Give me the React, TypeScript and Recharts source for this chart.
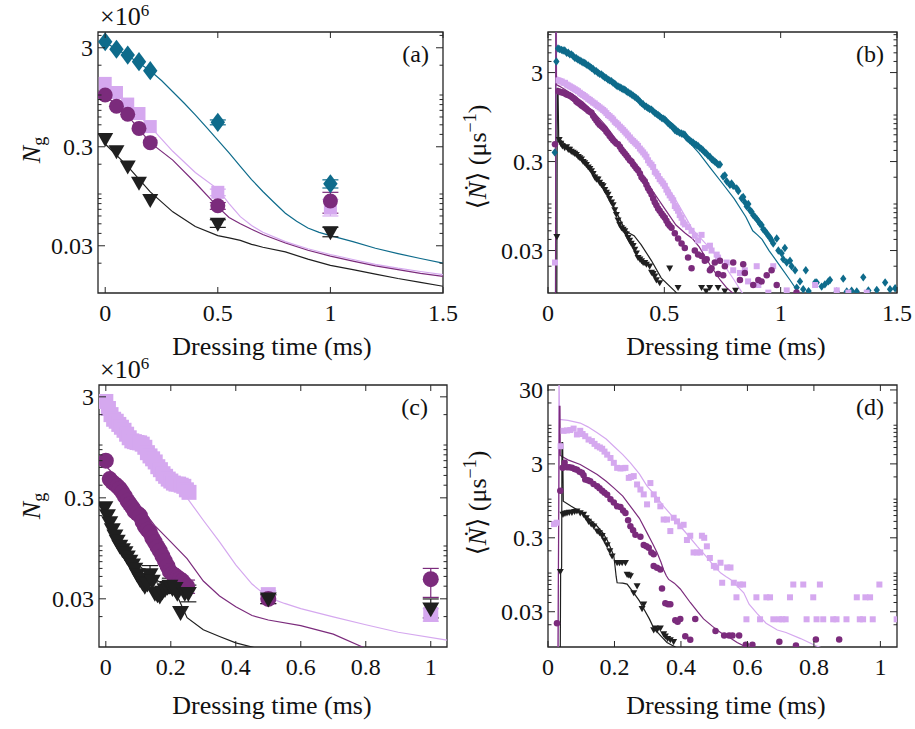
import React from "react";
import { ComposedChart, Scatter, Line, XAxis, YAxis, ReferenceArea, ErrorBar } from "recharts";

const FONT = "'Liberation Serif', 'DejaVu Serif', serif";
const INK = "#111111";
const FRAME = "#262626";
const TEAL = "#0e6b8b";
const LILAC = "#d5a8ef";
const PURPLE = "#7b2b7c";
const BLACK = "#1f1f1f";

type Pt = [number, number];
type Err = [number, number] | null;

// ---- (a) ground-state atom number, sparse dressing times ----
const aTimes = [0, 0.05, 0.1, 0.15, 0.2, 0.5, 1];
const aTeal = [3.45, 2.9, 2.53, 2.17, 1.76, 0.53, 0.127];
const aLilac = [1.31, 1.06, 0.81, 0.65, 0.48, 0.104, 0.072];
const aPurple = [1.0, 0.77, 0.64, 0.46, 0.33, 0.076, 0.085];
const aBlack = [0.36, 0.27, 0.19, 0.13, 0.087, 0.05, 0.041];
// error bars as [below, above]
const aTealErr: Err[] = [null, null, null, null, null, [0.03, 0.03], [0.012, 0.012]];
const aLilacErr: Err[] = [null, null, null, null, null, [0.008, 0.008], [0.012, 0.016]];
const aPurpleErr: Err[] = [null, null, null, null, null, [0.006, 0.006], [0.021, 0.019]];
const aBlackErr: Err[] = [null, null, null, null, null, [0.004, 0.005], [0.004, 0.005]];

const aFitTealT = [0, 0.1, 0.2, 0.25, 0.3, 0.35, 0.4, 0.45, 0.5, 0.55, 0.6, 0.65, 0.7, 0.75, 0.8, 0.85, 0.9, 0.95, 1.0, 1.1, 1.2, 1.3, 1.4, 1.5];
const aFitTeal = [3.4, 2.5, 1.76, 1.4, 1.08, 0.83, 0.63, 0.47, 0.35, 0.26, 0.19, 0.14, 0.106, 0.082, 0.064, 0.053, 0.0454, 0.041, 0.038, 0.033, 0.0283, 0.025, 0.0223, 0.02];
const aFitT = [0, 0.1, 0.2, 0.3, 0.4, 0.5, 0.55, 0.6, 0.65, 0.7, 0.8, 0.9, 1.0, 1.1, 1.2, 1.3, 1.4, 1.5];
const aFitLilac = [1.3, 0.8, 0.48, 0.27, 0.165, 0.112, 0.08, 0.059, 0.048, 0.041, 0.033, 0.028, 0.0245, 0.0218, 0.0195, 0.0178, 0.0165, 0.0153];
const aFitPurple = [1.0, 0.62, 0.33, 0.22, 0.13, 0.074, 0.058, 0.05, 0.044, 0.039, 0.032, 0.027, 0.0236, 0.021, 0.0188, 0.0172, 0.0158, 0.0147];
const aFitBlack = [0.32, 0.19, 0.105, 0.066, 0.047, 0.038, 0.036, 0.034, 0.031, 0.029, 0.026, 0.022, 0.019, 0.0172, 0.0155, 0.014, 0.0128, 0.0117];

// ---- (b) loss rate, time-resolved ----
const bTeal: Pt[] = [
  [0.029, 0.38], [0.036, 4.0], [0.043, 5.6], [0.05, 5.5], [0.058, 5.4], [0.065, 5.3], [0.072, 5.3], [0.08, 5.0], [0.087, 5.0], [0.094, 4.8],
  [0.101, 4.8], [0.108, 4.6], [0.115, 4.4], [0.122, 4.35], [0.129, 4.2], [0.137, 4.1], [0.144, 4.0], [0.151, 3.9], [0.158, 3.85], [0.165, 3.7],
  [0.173, 3.6], [0.18, 3.5], [0.187, 3.38], [0.194, 3.3], [0.201, 3.15], [0.208, 3.1], [0.215, 2.98], [0.222, 2.9], [0.23, 2.85], [0.237, 2.75],
  [0.244, 2.66], [0.251, 2.6], [0.258, 2.5], [0.265, 2.45], [0.273, 2.4], [0.28, 2.3], [0.287, 2.25], [0.294, 2.15], [0.301, 2.1], [0.309, 2.05],
  [0.316, 2.0], [0.323, 1.95], [0.33, 1.93], [0.337, 1.85], [0.344, 1.8], [0.352, 1.75], [0.359, 1.7], [0.366, 1.65], [0.373, 1.6], [0.38, 1.55],
  [0.387, 1.5], [0.395, 1.42], [0.402, 1.36], [0.409, 1.32], [0.416, 1.26], [0.423, 1.24], [0.43, 1.2], [0.437, 1.17], [0.445, 1.15], [0.452, 1.1],
  [0.459, 1.06], [0.466, 1.03], [0.473, 1.0], [0.48, 0.97], [0.488, 0.93], [0.495, 0.91], [0.502, 0.89], [0.509, 0.85], [0.516, 0.81], [0.523, 0.78],
  [0.531, 0.75], [0.538, 0.72], [0.545, 0.68], [0.552, 0.66], [0.559, 0.65], [0.566, 0.63], [0.574, 0.62], [0.581, 0.61], [0.588, 0.6], [0.595, 0.56],
  [0.602, 0.54], [0.609, 0.52], [0.617, 0.5], [0.624, 0.49], [0.631, 0.47], [0.638, 0.46], [0.645, 0.45], [0.652, 0.43], [0.66, 0.415], [0.667, 0.4],
  [0.674, 0.38], [0.681, 0.37], [0.688, 0.35], [0.696, 0.34], [0.703, 0.32], [0.71, 0.31], [0.717, 0.3], [0.724, 0.29], [0.731, 0.277], [0.739, 0.278],
  [0.753, 0.204], [0.76, 0.21], [0.768, 0.18], [0.782, 0.164], [0.789, 0.17], [0.796, 0.16], [0.811, 0.15], [0.818, 0.14], [0.832, 0.116], [0.839, 0.12],
  [0.846, 0.105], [0.854, 0.094], [0.861, 0.1], [0.868, 0.085], [0.875, 0.082], [0.882, 0.075], [0.889, 0.072], [0.897, 0.068], [0.904, 0.064], [0.911, 0.06],
  [0.918, 0.058], [0.925, 0.052], [0.932, 0.05], [0.94, 0.047], [0.947, 0.044], [0.954, 0.042], [0.961, 0.039], [0.968, 0.036], [0.983, 0.041], [0.99, 0.03],
  [1.004, 0.028], [1.011, 0.024], [1.018, 0.032], [1.026, 0.022], [1.04, 0.023], [1.047, 0.02], [1.062, 0.018], [1.069, 0.0115], [1.083, 0.0135], [1.097, 0.011],
  [1.108, 0.018], [1.12, 0.0105], [1.148, 0.0131], [1.155, 0.0131], [1.176, 0.0118], [1.19, 0.0125], [1.205, 0.0135], [1.212, 0.014], [1.241, 0.0104], [1.269, 0.0145],
  [1.284, 0.0104], [1.305, 0.0106], [1.327, 0.0104], [1.355, 0.015], [1.377, 0.0107], [1.413, 0.0108], [1.449, 0.0131], [1.47, 0.011], [1.492, 0.0113],
];
const bLilac: Pt[] = [
  [0.03, 0.022], [0.045, 2.45], [0.052, 2.4], [0.059, 2.38], [0.066, 2.3], [0.073, 2.3], [0.08, 2.2], [0.087, 2.15], [0.094, 2.1], [0.101, 2.05],
  [0.108, 2.0], [0.115, 1.95], [0.122, 1.9], [0.129, 1.85], [0.137, 1.78], [0.144, 1.72], [0.151, 1.68], [0.158, 1.63], [0.165, 1.58], [0.173, 1.52],
  [0.18, 1.48], [0.187, 1.43], [0.194, 1.38], [0.201, 1.35], [0.208, 1.3], [0.215, 1.26], [0.222, 1.22], [0.23, 1.18], [0.237, 1.14], [0.244, 1.1],
  [0.251, 1.05], [0.258, 1.0], [0.265, 0.97], [0.273, 0.93], [0.28, 0.89], [0.287, 0.84], [0.294, 0.81], [0.301, 0.78], [0.309, 0.74], [0.316, 0.71],
  [0.323, 0.68], [0.33, 0.65], [0.337, 0.62], [0.344, 0.59], [0.352, 0.56], [0.359, 0.53], [0.366, 0.51], [0.373, 0.49], [0.38, 0.47], [0.387, 0.45],
  [0.395, 0.42], [0.402, 0.4], [0.409, 0.38], [0.416, 0.36], [0.423, 0.34], [0.43, 0.31], [0.437, 0.29], [0.445, 0.277], [0.452, 0.26], [0.459, 0.23],
  [0.466, 0.22], [0.473, 0.206], [0.48, 0.19], [0.488, 0.18], [0.495, 0.17], [0.502, 0.16], [0.509, 0.145], [0.516, 0.135], [0.523, 0.125], [0.531, 0.117],
  [0.538, 0.11], [0.545, 0.095], [0.552, 0.09], [0.559, 0.084], [0.566, 0.075], [0.574, 0.07], [0.581, 0.062], [0.588, 0.059], [0.602, 0.055], [0.617, 0.05],
  [0.631, 0.044], [0.645, 0.039], [0.66, 0.045], [0.674, 0.032], [0.696, 0.034], [0.703, 0.03], [0.725, 0.027], [0.731, 0.025], [0.768, 0.022], [0.796, 0.018],
  [0.825, 0.0168], [0.846, 0.018], [0.86, 0.0135], [0.897, 0.02], [0.904, 0.0123], [0.947, 0.0101], [0.968, 0.02], [1.026, 0.0107], [1.148, 0.0123], [1.241, 0.0107],
  [1.291, 0.0101], [1.37, 0.0101],
];
const bPurple: Pt[] = [
  [0.03, 0.47], [0.045, 1.85], [0.052, 1.82], [0.059, 1.8], [0.066, 1.78], [0.073, 1.75], [0.08, 1.7], [0.087, 1.68], [0.094, 1.65], [0.101, 1.6],
  [0.108, 1.55], [0.115, 1.5], [0.122, 1.42], [0.129, 1.37], [0.137, 1.33], [0.144, 1.28], [0.151, 1.25], [0.158, 1.21], [0.165, 1.17], [0.173, 1.12],
  [0.18, 1.09], [0.187, 1.06], [0.194, 0.98], [0.201, 0.92], [0.208, 0.87], [0.215, 0.82], [0.222, 0.78], [0.23, 0.75], [0.237, 0.72], [0.244, 0.69],
  [0.251, 0.65], [0.258, 0.62], [0.265, 0.58], [0.273, 0.55], [0.28, 0.52], [0.287, 0.5], [0.294, 0.48], [0.301, 0.47], [0.309, 0.44], [0.316, 0.41],
  [0.323, 0.39], [0.33, 0.37], [0.337, 0.35], [0.344, 0.33], [0.352, 0.31], [0.359, 0.3], [0.366, 0.28], [0.373, 0.265], [0.38, 0.25], [0.387, 0.24],
  [0.395, 0.22], [0.402, 0.2], [0.409, 0.19], [0.416, 0.18], [0.423, 0.165], [0.43, 0.15], [0.437, 0.14], [0.445, 0.128], [0.452, 0.115], [0.459, 0.105],
  [0.466, 0.097], [0.473, 0.089], [0.48, 0.084], [0.488, 0.078], [0.495, 0.074], [0.502, 0.07], [0.509, 0.065], [0.516, 0.06], [0.523, 0.057], [0.531, 0.054],
  [0.545, 0.047], [0.559, 0.041], [0.574, 0.036], [0.588, 0.032], [0.602, 0.025], [0.617, 0.019], [0.631, 0.03], [0.645, 0.027], [0.66, 0.026], [0.674, 0.023],
  [0.682, 0.024], [0.696, 0.018], [0.703, 0.019], [0.717, 0.022], [0.731, 0.0164], [0.739, 0.023], [0.753, 0.0158], [0.76, 0.02], [0.796, 0.022], [0.825, 0.014],
  [0.839, 0.021], [0.846, 0.0168], [0.882, 0.0123], [0.904, 0.014], [0.918, 0.0135], [0.94, 0.0158], [0.961, 0.018], [0.983, 0.0123], [1.068, 0.0101],
];
const bBlack: Pt[] = [
  [0.038, 0.043], [0.048, 0.53], [0.055, 0.48], [0.062, 0.45], [0.072, 0.43], [0.08, 0.44], [0.087, 0.41], [0.093, 0.41], [0.1, 0.39], [0.108, 0.38],
  [0.115, 0.37], [0.122, 0.36], [0.13, 0.34], [0.137, 0.33], [0.144, 0.32], [0.151, 0.3], [0.158, 0.29], [0.165, 0.277], [0.173, 0.26], [0.18, 0.25],
  [0.187, 0.235], [0.194, 0.22], [0.201, 0.2], [0.208, 0.19], [0.215, 0.19], [0.222, 0.175], [0.23, 0.165], [0.237, 0.16], [0.244, 0.145], [0.251, 0.135],
  [0.258, 0.128], [0.265, 0.115], [0.273, 0.105], [0.28, 0.098], [0.287, 0.086], [0.294, 0.076], [0.301, 0.066], [0.308, 0.059], [0.316, 0.054], [0.323, 0.052],
  [0.33, 0.05], [0.337, 0.046], [0.344, 0.042], [0.351, 0.039], [0.358, 0.036], [0.366, 0.034], [0.373, 0.031], [0.38, 0.028], [0.387, 0.025], [0.395, 0.024],
  [0.402, 0.023], [0.409, 0.022], [0.416, 0.022], [0.423, 0.021], [0.437, 0.02], [0.445, 0.017], [0.452, 0.0165], [0.459, 0.0155], [0.466, 0.014], [0.48, 0.013],
  [0.523, 0.019], [0.559, 0.0115], [0.66, 0.0115], [0.68, 0.0105], [0.695, 0.0115], [0.731, 0.0115], [0.76, 0.0105], [0.806, 0.0107],
];
const bFitTeal: Pt[] = [
  [0.032, 0.001], [0.034, 100], [0.036, 5.4], [0.05, 5.2], [0.1, 4.6], [0.15, 3.9], [0.2, 3.2], [0.25, 2.75], [0.3, 2.2], [0.35, 1.8], [0.4, 1.43],
  [0.45, 1.15], [0.5, 0.95], [0.55, 0.74], [0.6, 0.52], [0.65, 0.37], [0.7, 0.25], [0.75, 0.17], [0.8, 0.115], [0.85, 0.072], [0.88, 0.05],
  [0.9, 0.045], [0.92, 0.04], [0.95, 0.03], [1.0, 0.0197], [1.04, 0.014], [1.08, 0.0098],
];
const bFitLilac: Pt[] = [
  [0.033, 0.001], [0.035, 100], [0.037, 2.7], [0.05, 2.6], [0.1, 2.15], [0.15, 1.75], [0.2, 1.4], [0.25, 1.08], [0.3, 0.8], [0.35, 0.57], [0.4, 0.4],
  [0.45, 0.27], [0.5, 0.18], [0.55, 0.11], [0.6, 0.065], [0.62, 0.052], [0.65, 0.043], [0.7, 0.031], [0.73, 0.025], [0.76, 0.02], [0.8, 0.014],
  [0.832, 0.0103], [0.85, 0.009],
];
const bFitPurple: Pt[] = [
  [0.032, 0.001], [0.034, 100], [0.036, 2.2], [0.05, 2.1], [0.1, 1.75], [0.15, 1.4], [0.2, 1.05], [0.25, 0.75], [0.3, 0.5], [0.35, 0.33], [0.4, 0.22],
  [0.45, 0.14], [0.5, 0.09], [0.55, 0.058], [0.59, 0.047], [0.62, 0.041], [0.65, 0.033], [0.7, 0.02], [0.74, 0.014], [0.77, 0.0113], [0.8, 0.0097],
];
const bFitBlack: Pt[] = [
  [0.037, 0.001], [0.04, 2.0], [0.043, 2.0], [0.046, 0.55], [0.08, 0.45], [0.12, 0.37], [0.16, 0.3], [0.2, 0.22], [0.25, 0.14], [0.3, 0.075],
  [0.33, 0.052], [0.35, 0.047], [0.37, 0.044], [0.4, 0.035], [0.445, 0.023], [0.487, 0.0147], [0.545, 0.0105], [0.56, 0.0095],
];

// ---- (c) ground-state atom number, dense dressing times ----
const cLilac: Pt[] = [
  [0, 2.7], [0.008, 2.3], [0.016, 2.0], [0.024, 1.8], [0.032, 1.72], [0.04, 1.6], [0.048, 1.5], [0.056, 1.4], [0.064, 1.28], [0.072, 1.18],
  [0.08, 1.1], [0.088, 1.08], [0.096, 1.06], [0.104, 1.05], [0.112, 1.02], [0.12, 0.95], [0.128, 0.84], [0.136, 0.78], [0.144, 0.73], [0.152, 0.68],
  [0.16, 0.61], [0.168, 0.57], [0.176, 0.52], [0.184, 0.49], [0.192, 0.46], [0.2, 0.44], [0.208, 0.42], [0.216, 0.41], [0.224, 0.41], [0.232, 0.4],
  [0.24, 0.39], [0.248, 0.36], [0.256, 0.34], [0.5, 0.033], [1, 0.021],
];
const cPurple: Pt[] = [
  [0, 0.7], [0.012, 0.46], [0.02, 0.43], [0.028, 0.41], [0.036, 0.39], [0.043, 0.37], [0.051, 0.34], [0.059, 0.31], [0.067, 0.28], [0.074, 0.26],
  [0.082, 0.24], [0.089, 0.22], [0.097, 0.21], [0.105, 0.2], [0.113, 0.175], [0.12, 0.157], [0.128, 0.145], [0.136, 0.136], [0.143, 0.12], [0.151, 0.109],
  [0.159, 0.098], [0.166, 0.09], [0.174, 0.08], [0.182, 0.071], [0.19, 0.063], [0.197, 0.056], [0.205, 0.053], [0.213, 0.051], [0.22, 0.049], [0.228, 0.047],
  [0.236, 0.045], [0.243, 0.042], [0.25, 0.04], [0.5, 0.0299], [1, 0.047],
];
const cBlack: Pt[] = [
  [-0.003, 0.24], [0.005, 0.2], [0.012, 0.17], [0.02, 0.145], [0.028, 0.126], [0.035, 0.112], [0.043, 0.1], [0.051, 0.092], [0.059, 0.086], [0.066, 0.078],
  [0.074, 0.071], [0.082, 0.065], [0.089, 0.059], [0.097, 0.052], [0.105, 0.047], [0.113, 0.043], [0.12, 0.04], [0.128, 0.042], [0.136, 0.052], [0.143, 0.045],
  [0.151, 0.034], [0.159, 0.033], [0.166, 0.032], [0.174, 0.035], [0.182, 0.037], [0.19, 0.039], [0.197, 0.04], [0.205, 0.038], [0.213, 0.038], [0.22, 0.034],
  [0.23, 0.022], [0.243, 0.034], [0.254, 0.034], [0.5, 0.0299], [1, 0.0239],
];
// error bars keyed by dressing time
const cPurpleErr: Record<number, [number, number]> = { 0.25: [0.006, 0.006], 0.5: [0.003, 0.003], 1: [0.016, 0.013] };
const cBlackErr: Record<number, [number, number]> = { 0.136: [0.008, 0.012], 0.197: [0.006, 0.008], 0.254: [0.006, 0.007], 0.5: [0.003, 0.003], 1: [0.0045, 0.006] };
const cLilacErr: Record<number, [number, number]> = { 0.5: [0.003, 0.003], 1: [0.003, 0.003] };

const cFitLilac: Pt[] = [
  [0, 2.6], [0.05, 1.6], [0.1, 1.0], [0.15, 0.68], [0.2, 0.45], [0.25, 0.3], [0.3, 0.18], [0.35, 0.11], [0.4, 0.065], [0.45, 0.042], [0.5, 0.031],
  [0.55, 0.027], [0.6, 0.024], [0.7, 0.0199], [0.8, 0.0166], [0.9, 0.014], [1.05, 0.0117],
];
const cFitPurple: Pt[] = [
  [0, 0.62], [0.05, 0.42], [0.1, 0.26], [0.15, 0.16], [0.2, 0.11], [0.25, 0.075], [0.3, 0.045], [0.35, 0.032], [0.4, 0.025], [0.45, 0.0205],
  [0.5, 0.0185], [0.6, 0.0163], [0.7, 0.0134], [0.79, 0.01], [0.82, 0.0092],
];
const cFitBlack: Pt[] = [
  [0, 0.22], [0.05, 0.11], [0.1, 0.065], [0.15, 0.047], [0.2, 0.038], [0.22, 0.032], [0.25, 0.0195], [0.3, 0.0148], [0.35, 0.0127], [0.4, 0.011], [0.46, 0.0098],
];

// ---- (d) loss rate, time-resolved ----
const dLilac: Pt[] = [
  [0.018, 0.46], [0.026, 0.48], [0.038, 5.2], [0.047, 8.4], [0.057, 8.5], [0.067, 8.6], [0.077, 9.0], [0.087, 7.5], [0.097, 8.4], [0.104, 7.6],
  [0.112, 7.1], [0.122, 6.4], [0.132, 6.1], [0.14, 5.6], [0.148, 5.2], [0.156, 5.0], [0.163, 4.8], [0.17, 4.4], [0.178, 4.0], [0.188, 3.6],
  [0.198, 3.1], [0.208, 2.65], [0.218, 2.6], [0.226, 2.62], [0.233, 2.65], [0.243, 1.94], [0.25, 2.0], [0.258, 2.05], [0.268, 1.58], [0.278, 1.35],
  [0.288, 1.16], [0.298, 0.85], [0.308, 1.65], [0.318, 1.16], [0.328, 0.98], [0.338, 0.8], [0.348, 0.53], [0.358, 0.53], [0.368, 0.37], [0.378, 0.56],
  [0.388, 0.5], [0.398, 0.43], [0.408, 0.45], [0.418, 0.28], [0.428, 0.32], [0.438, 0.19], [0.448, 0.19], [0.458, 0.19], [0.463, 0.32], [0.47, 0.3],
  [0.478, 0.23], [0.487, 0.16], [0.499, 0.125], [0.506, 0.119], [0.519, 0.138], [0.524, 0.074], [0.539, 0.119], [0.549, 0.119], [0.559, 0.074], [0.567, 0.047],
  [0.577, 0.07], [0.587, 0.07], [0.597, 0.0237], [0.627, 0.047], [0.638, 0.0237], [0.657, 0.047], [0.668, 0.047], [0.678, 0.0237], [0.695, 0.0237], [0.705, 0.0237],
  [0.715, 0.0237], [0.728, 0.047], [0.738, 0.07], [0.768, 0.07], [0.778, 0.0237], [0.798, 0.047], [0.808, 0.0237], [0.818, 0.07], [0.828, 0.0237], [0.858, 0.0237],
  [0.868, 0.0237], [0.898, 0.0237], [0.929, 0.047], [0.938, 0.0237], [0.948, 0.0237], [0.955, 0.047], [0.969, 0.047], [0.977, 0.0237], [0.997, 0.07], [1.049, 0.0237],
];
const dPurple: Pt[] = [
  [0.027, 0.021], [0.037, 1.3], [0.044, 2.65], [0.05, 3.1], [0.057, 2.7], [0.064, 2.7], [0.072, 2.65], [0.08, 2.55], [0.087, 2.5], [0.095, 2.35],
  [0.102, 2.27], [0.107, 2.1], [0.112, 1.84], [0.12, 1.8], [0.127, 1.75], [0.137, 1.6], [0.148, 1.5], [0.155, 1.4], [0.163, 1.3], [0.17, 1.22],
  [0.178, 1.15], [0.188, 1.0], [0.198, 0.9], [0.208, 0.8], [0.218, 0.78], [0.226, 0.7], [0.233, 0.65], [0.241, 0.52], [0.248, 0.43], [0.256, 0.38],
  [0.263, 0.33], [0.278, 0.31], [0.288, 0.24], [0.296, 0.23], [0.303, 0.22], [0.311, 0.19], [0.318, 0.18], [0.318, 0.125], [0.328, 0.118], [0.338, 0.112],
  [0.343, 0.062], [0.353, 0.039], [0.361, 0.038], [0.368, 0.038], [0.383, 0.023], [0.39, 0.022], [0.398, 0.024], [0.413, 0.014], [0.428, 0.0125], [0.443, 0.024],
  [0.504, 0.0164], [0.53, 0.0143], [0.545, 0.0143], [0.555, 0.0143], [0.575, 0.0143], [0.595, 0.0107], [0.615, 0.0107], [0.696, 0.0118], [0.746, 0.0105], [0.806, 0.0126],
  [0.876, 0.0126],
];
const dBlack: Pt[] = [
  [0.037, 0.105], [0.045, 0.62], [0.051, 0.64], [0.057, 0.65], [0.064, 0.66], [0.072, 0.66], [0.08, 0.68], [0.087, 0.69], [0.097, 0.65], [0.107, 0.62],
  [0.115, 0.56], [0.122, 0.5], [0.13, 0.46], [0.138, 0.43], [0.148, 0.37], [0.155, 0.35], [0.163, 0.32], [0.17, 0.28], [0.178, 0.24], [0.186, 0.2],
  [0.193, 0.17], [0.208, 0.138], [0.215, 0.138], [0.223, 0.138], [0.233, 0.138], [0.238, 0.096], [0.243, 0.094], [0.248, 0.092], [0.258, 0.054], [0.268, 0.067],
  [0.283, 0.033], [0.288, 0.038], [0.318, 0.017], [0.323, 0.018], [0.328, 0.017], [0.338, 0.018], [0.348, 0.015], [0.353, 0.014], [0.36, 0.013], [0.368, 0.0125],
  [0.378, 0.0118],
];
const dFitLilac: Pt[] = [
  [0.03, 0.001], [0.033, 60], [0.035, 12], [0.06, 11.6], [0.097, 10.7], [0.12, 9.5], [0.148, 7.9], [0.175, 6.5], [0.198, 5.2], [0.225, 4.0], [0.248, 3.1],
  [0.275, 2.2], [0.298, 1.5], [0.325, 1.1], [0.348, 0.8], [0.375, 0.58], [0.398, 0.43], [0.425, 0.31], [0.449, 0.23], [0.475, 0.17], [0.499, 0.125],
  [0.52, 0.1], [0.535, 0.09], [0.549, 0.082], [0.57, 0.066], [0.589, 0.054], [0.605, 0.038], [0.63, 0.028], [0.656, 0.021], [0.69, 0.017], [0.716, 0.0157],
  [0.76, 0.013], [0.806, 0.0104], [0.83, 0.0095],
];
const dFitPurple: Pt[] = [
  [0.029, 0.001], [0.034, 18], [0.036, 18], [0.037, 3.9], [0.06, 3.4], [0.097, 2.94], [0.12, 2.55], [0.148, 2.15], [0.175, 1.75], [0.198, 1.42],
  [0.225, 1.1], [0.248, 0.8], [0.275, 0.55], [0.298, 0.35], [0.315, 0.25], [0.328, 0.19], [0.34, 0.14], [0.348, 0.11], [0.356, 0.092], [0.363, 0.082],
  [0.38, 0.073], [0.398, 0.061], [0.428, 0.04], [0.45, 0.03], [0.468, 0.024], [0.495, 0.019], [0.519, 0.0157], [0.545, 0.0135], [0.569, 0.0115], [0.6, 0.0098],
];
const dFitBlack: Pt[] = [
  [0.036, 0.001], [0.038, 0.1], [0.041, 0.12], [0.042, 5.8], [0.044, 5.8], [0.046, 0.94], [0.07, 0.8], [0.097, 0.68], [0.12, 0.56], [0.148, 0.43],
  [0.165, 0.35], [0.178, 0.28], [0.19, 0.21], [0.198, 0.17], [0.202, 0.12], [0.205, 0.09], [0.208, 0.074], [0.225, 0.073], [0.238, 0.071], [0.258, 0.054],
  [0.275, 0.042], [0.288, 0.033], [0.305, 0.024], [0.318, 0.018], [0.34, 0.014], [0.358, 0.0115], [0.383, 0.01], [0.39, 0.0096],
];

// ---- axes ----
const xTicksWide = [0, 0.5, 1, 1.5];
const xTicksNarrow = [0, 0.2, 0.4, 0.6, 0.8, 1];
const yMajorN = [0.03, 0.3, 3];
const yMajorRate = [0.03, 0.3, 3, 30];

// minor log ticks between 0.01 and top, skipping the labelled 3×10^k positions
const minorTicks = (top: number) => {
  const out: number[] = [];
  for (const d of [0.01, 0.1, 1, 10]) {
    for (let k = 1; k <= 9; k++) {
      const v = +(k * d).toPrecision(3);
      if (k !== 3 && v > 0.01 && v < top) out.push(v);
    }
  }
  return out;
};

const zipErr = (ts: number[], vs: number[], errs?: Err[]) =>
  ts.map((x, i) => ({ x, y: vs[i], err: errs?.[i] ?? undefined }));
const fromPairs = (pts: Pt[], errs?: Record<number, [number, number]>) =>
  pts.map(([x, y]) => ({ x, y, err: errs?.[x] }));

type Kind = "diamond" | "square" | "circle" | "tri";

function Marker({ kind, cx, cy, s, color }: { kind: Kind; cx?: number; cy?: number; s: number; color: string }) {
  if (cx == null || cy == null || !isFinite(cx) || !isFinite(cy)) return <g />;
  const h = s / 2;
  if (kind === "circle") return <circle cx={cx} cy={cy} r={h} fill={color} />;
  if (kind === "square") return <rect x={cx - h} y={cy - h} width={s} height={s} fill={color} />;
  if (kind === "diamond")
    return <path d={`M${cx},${cy - h * 1.2}L${cx + h * 0.9},${cy}L${cx},${cy + h * 1.2}L${cx - h * 0.9},${cy}Z`} fill={color} />;
  return <path d={`M${cx - h},${cy - h * 0.75}L${cx + h},${cy - h * 0.75}L${cx},${cy + h}Z`} fill={color} />;
}

const shape = (kind: Kind, s: number, color: string) => (p: any) => (
  <Marker kind={kind} cx={p.cx} cy={p.cy} s={s} color={color} />
);

type Plot = { l: number; t: number; r: number; b: number };

type PanelProps = {
  left: number;
  top: number;
  width: number;
  height: number;
  plot: Plot;
  xDomain: [number, number];
  yDomain: [number, number];
  xTicks: number[];
  yMajor: number[];
  children: React.ReactNode;
};

function Panel({ left, top, width, height, plot, xDomain, yDomain, xTicks, yMajor, children }: PanelProps) {
  const yTicks = [...minorTicks(yDomain[1]), ...yMajor].sort((a, b) => a - b);
  const isMajor = (v: number) => yMajor.some((m) => Math.abs(m - v) / m < 1e-6);

  const xTick = (p: any) => {
    const x = p.x;
    const v = p.payload.value;
    return (
      <g>
        <line x1={x} x2={x} y1={plot.b} y2={plot.b - 6} stroke={FRAME} strokeWidth={1} />
        <line x1={x} x2={x} y1={plot.t} y2={plot.t + 6} stroke={FRAME} strokeWidth={1} />
        <text x={x} y={plot.b + 27.5} textAnchor="middle" fontFamily={FONT} fontSize={24} fill={INK}>
          {String(v)}
        </text>
      </g>
    );
  };

  const yTick = (p: any) => {
    const y = p.y;
    const v = p.payload.value;
    const major = isMajor(v);
    const len = major ? 7 : 3.5;
    return (
      <g>
        <line x1={plot.l} x2={plot.l + len} y1={y} y2={y} stroke={FRAME} strokeWidth={1} />
        <line x1={plot.r} x2={plot.r - len} y1={y} y2={y} stroke={FRAME} strokeWidth={1} />
        {major && (
          <text x={plot.l - 5} y={y + 8} textAnchor="end" fontFamily={FONT} fontSize={24} fill={INK}>
            {String(v)}
          </text>
        )}
      </g>
    );
  };

  return (
    <div style={{ position: "absolute", left, top, width, height }}>
      <ComposedChart
        width={width}
        height={height}
        margin={{ top: plot.t, right: width - plot.r, bottom: 0, left: 0 }}
      >
        <XAxis
          type="number"
          dataKey="x"
          domain={xDomain}
          allowDataOverflow
          ticks={xTicks}
          interval={0}
          tick={xTick}
          tickLine={false}
          axisLine={false}
          height={height - plot.b}
        />
        <YAxis
          type="number"
          dataKey="y"
          scale="log"
          domain={yDomain}
          allowDataOverflow
          ticks={yTicks}
          interval={0}
          tick={yTick}
          tickLine={false}
          axisLine={false}
          width={plot.l}
        />
        {children}
        <ReferenceArea
          x1={xDomain[0]}
          x2={xDomain[1]}
          y1={yDomain[0]}
          y2={yDomain[1]}
          fill="none"
          fillOpacity={0}
          stroke={FRAME}
          strokeWidth={1.3}
          ifOverflow="visible"
        />
      </ComposedChart>
    </div>
  );
}

const fit = (data: { x: number; y: number }[], color: string, key: string) => (
  <Line
    key={key}
    data={data}
    dataKey="y"
    type="linear"
    stroke={color}
    strokeWidth={1.2}
    dot={false}
    activeDot={false}
    isAnimationActive={false}
  />
);

const pairs = (pts: Pt[]) => pts.map(([x, y]) => ({ x, y }));
const curve = (ts: number[], vs: number[]) => ts.map((x, i) => ({ x, y: vs[i] }));

export default function App() {
  return (
    <div style={{ position: "absolute", left: 0, top: 0, width: 915, height: 729, background: "#ffffff", overflow: "hidden" }}>
      {/* (a) */}
      <Panel
        left={0}
        top={0}
        width={460}
        height={360}
        plot={{ l: 98, t: 32, r: 443, b: 293 }}
        xDomain={[-0.032, 1.5]}
        yDomain={[0.01, 4.33]}
        xTicks={xTicksWide}
        yMajor={yMajorN}
      >
        {fit(curve(aFitTealT, aFitTeal), TEAL, "ft")}
        {fit(curve(aFitT, aFitLilac), LILAC, "fl")}
        {fit(curve(aFitT, aFitPurple), PURPLE, "fp")}
        {fit(curve(aFitT, aFitBlack), BLACK, "fb")}
        <Scatter data={zipErr(aTimes, aTeal, aTealErr)} shape={shape("diamond", 16, TEAL)} isAnimationActive={false}>
          <ErrorBar dataKey="err" direction="y" width={8} stroke={TEAL} strokeWidth={1.2} />
        </Scatter>
        <Scatter data={zipErr(aTimes, aLilac, aLilacErr)} shape={shape("square", 13, LILAC)} isAnimationActive={false}>
          <ErrorBar dataKey="err" direction="y" width={8} stroke={LILAC} strokeWidth={1.2} />
        </Scatter>
        <Scatter data={zipErr(aTimes, aPurple, aPurpleErr)} shape={shape("circle", 15, PURPLE)} isAnimationActive={false}>
          <ErrorBar dataKey="err" direction="y" width={8} stroke={PURPLE} strokeWidth={1.2} />
        </Scatter>
        <Scatter data={zipErr(aTimes, aBlack, aBlackErr)} shape={shape("tri", 16, BLACK)} isAnimationActive={false}>
          <ErrorBar dataKey="err" direction="y" width={8} stroke={BLACK} strokeWidth={1.2} />
        </Scatter>
      </Panel>

      {/* (b) */}
      <Panel
        left={460}
        top={0}
        width={455}
        height={360}
        plot={{ l: 88, t: 32, r: 437, b: 293 }}
        xDomain={[0, 1.5]}
        yDomain={[0.01, 8.57]}
        xTicks={xTicksWide}
        yMajor={yMajorN}
      >
        {fit(pairs(bFitTeal), TEAL, "ft")}
        {fit(pairs(bFitLilac), LILAC, "fl")}
        {fit(pairs(bFitPurple), PURPLE, "fp")}
        {fit(pairs(bFitBlack), BLACK, "fb")}
        <Scatter data={pairs(bTeal)} shape={shape("diamond", 7, TEAL)} isAnimationActive={false} />
        <Scatter data={pairs(bLilac)} shape={shape("square", 6, LILAC)} isAnimationActive={false} />
        <Scatter data={pairs(bPurple)} shape={shape("circle", 6.5, PURPLE)} isAnimationActive={false} />
        <Scatter data={pairs(bBlack)} shape={shape("tri", 7, BLACK)} isAnimationActive={false} />
      </Panel>

      {/* (c) */}
      <Panel
        left={0}
        top={360}
        width={460}
        height={369}
        plot={{ l: 99, t: 25, r: 447, b: 287 }}
        xDomain={[-0.021, 1.05]}
        yDomain={[0.01, 3.93]}
        xTicks={xTicksNarrow}
        yMajor={yMajorN}
      >
        {fit(pairs(cFitLilac), LILAC, "fl")}
        {fit(pairs(cFitPurple), PURPLE, "fp")}
        {fit(pairs(cFitBlack), BLACK, "fb")}
        <Scatter data={fromPairs(cLilac, cLilacErr)} shape={shape("square", 15, LILAC)} isAnimationActive={false}>
          <ErrorBar dataKey="err" direction="y" width={8} stroke={LILAC} strokeWidth={1.2} />
        </Scatter>
        <Scatter data={fromPairs(cPurple, cPurpleErr)} shape={shape("circle", 16, PURPLE)} isAnimationActive={false}>
          <ErrorBar dataKey="err" direction="y" width={8} stroke={PURPLE} strokeWidth={1.2} />
        </Scatter>
        <Scatter data={fromPairs(cBlack, cBlackErr)} shape={shape("tri", 17, BLACK)} isAnimationActive={false}>
          <ErrorBar dataKey="err" direction="y" width={8} stroke={BLACK} strokeWidth={1.2} />
        </Scatter>
      </Panel>

      {/* (d) */}
      <Panel
        left={460}
        top={360}
        width={455}
        height={369}
        plot={{ l: 88, t: 25, r: 437, b: 287 }}
        xDomain={[0, 1.05]}
        yDomain={[0.01, 35]}
        xTicks={xTicksNarrow}
        yMajor={yMajorRate}
      >
        {fit(pairs(dFitLilac), LILAC, "fl")}
        {fit(pairs(dFitPurple), PURPLE, "fp")}
        {fit(pairs(dFitBlack), BLACK, "fb")}
        <Scatter data={pairs(dLilac)} shape={shape("square", 6, LILAC)} isAnimationActive={false} />
        <Scatter data={pairs(dPurple)} shape={shape("circle", 6.5, PURPLE)} isAnimationActive={false} />
        <Scatter data={pairs(dBlack)} shape={shape("tri", 7, BLACK)} isAnimationActive={false} />
      </Panel>

      {/* titles and panel tags */}
      <svg
        width={915}
        height={729}
        style={{ position: "absolute", left: 0, top: 0, pointerEvents: "none" }}
        fontFamily={FONT}
        fill={INK}
      >
        <text x={272} y={355} fontSize={26} textAnchor="middle">Dressing time (ms)</text>
        <text x={726} y={355} fontSize={26} textAnchor="middle">Dressing time (ms)</text>
        <text x={272} y={714} fontSize={26} textAnchor="middle">Dressing time (ms)</text>
        <text x={726} y={714} fontSize={26} textAnchor="middle">Dressing time (ms)</text>

        <text x={100} y={25} fontSize={26}>
          ×10<tspan dy={-9} fontSize={17}>6</tspan>
        </text>
        <text x={100} y={378} fontSize={26}>
          ×10<tspan dy={-9} fontSize={17}>6</tspan>
        </text>

        <text transform="translate(40,150) rotate(-90)" fontSize={26} textAnchor="middle">
          <tspan fontStyle="italic">N</tspan>
          <tspan fontSize={18} dy={5}>g</tspan>
        </text>
        <text transform="translate(40,506) rotate(-90)" fontSize={26} textAnchor="middle">
          <tspan fontStyle="italic">N</tspan>
          <tspan fontSize={18} dy={5}>g</tspan>
        </text>

        <text transform="translate(486,157) rotate(-90)" fontSize={26} textAnchor="middle">
          {"\u27E8"}
          <tspan fontStyle="italic">{"N\u0307"}</tspan>
          {"\u27E9 (\u03BCs"}
          <tspan dy={-10} fontSize={18}>{"\u22121"}</tspan>
          <tspan dy={10}>)</tspan>
        </text>
        <text transform="translate(486,503) rotate(-90)" fontSize={26} textAnchor="middle">
          {"\u27E8"}
          <tspan fontStyle="italic">{"N\u0307"}</tspan>
          {"\u27E9 (\u03BCs"}
          <tspan dy={-10} fontSize={18}>{"\u22121"}</tspan>
          <tspan dy={10}>)</tspan>
        </text>

        <text x={429} y={62} fontSize={24} textAnchor="end">(a)</text>
        <text x={884} y={62} fontSize={24} textAnchor="end">(b)</text>
        <text x={428} y={415} fontSize={24} textAnchor="end">(c)</text>
        <text x={884} y={415} fontSize={24} textAnchor="end">(d)</text>
      </svg>
    </div>
  );
}
